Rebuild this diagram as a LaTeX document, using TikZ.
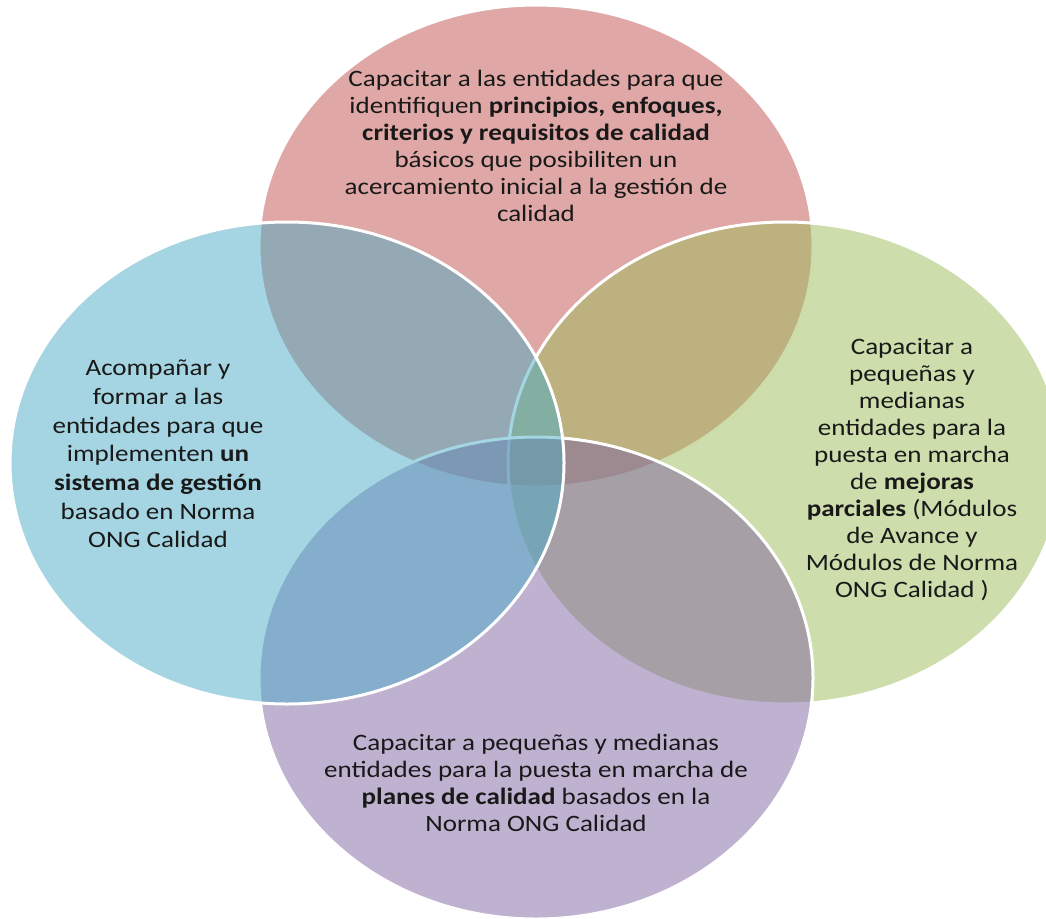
\documentclass[tikz,border=0pt]{standalone}
\usepackage{fontspec}
\setmainfont[FakeStretch=1.15]{Carlito}
\usetikzlibrary{shapes.geometric}
\definecolor{setred}{HTML}{C0504D}
\definecolor{setgreen}{HTML}{9BBB59}
\definecolor{setpurple}{HTML}{8064A2}
\definecolor{setblue}{HTML}{4BACC6}
\tikzset{
    set/.style={ % the four overlapping sets
        ellipse,
        draw=white, line width=3pt,
        fill opacity=0.5,
        inner sep=0pt,
        minimum width=554pt, minimum height=482pt
    },
    settext/.style={ % text inside a set
        align=center,
        text=black!90,
        font=\fontsize{23.5}{27}\selectfont
    },
}

\begin{document}
\begin{tikzpicture}[x=1pt, y=-1pt]
    \useasboundingbox (0,0) rectangle (1046,918);
    % sets, clockwise from the top
    \node[set, fill=setred]    (top)    at (536,246) {};
    \node[set, fill=setgreen]  (right)  at (785,463) {};
    \node[set, fill=setpurple] (bottom) at (536,678) {};
    \node[set, fill=setblue]   (left)   at (287,463) {};

    \node[settext] (toptext) at (536,146)
        {Capacitar a las entidades para que\\
         identifiquen \textbf{principios, enfoques,}\\
         \textbf{criterios y requisitos de calidad}\\
         básicos que posibiliten un\\
         acercamiento inicial a la gestión de\\
         calidad};
    \node[settext, font=\fontsize{23.5}{28.7}\selectfont] (lefttext) at (158,454)
        {Acompañar y\\
         formar a las\\
         entidades para que\\
         implementen \textbf{un}\\
         \textbf{sistema de gestión}\\
         basado en Norma\\
         ONG Calidad};
    \node[settext] (righttext) at (912,470)
        {Capacitar a\\
         pequeñas y\\
         medianas\\
         entidades para la\\
         puesta en marcha\\
         de \textbf{mejoras}\\
         \textbf{parciales} (Módulos\\
         de Avance y\\
         Módulos de Norma\\
         ONG Calidad )};
    \node[settext] (bottomtext) at (536,783)
        {Capacitar a pequeñas y medianas\\
         entidades para la puesta en marcha de\\
         \textbf{planes de calidad} basados en la\\
         Norma ONG Calidad};
\end{tikzpicture}
\end{document}
